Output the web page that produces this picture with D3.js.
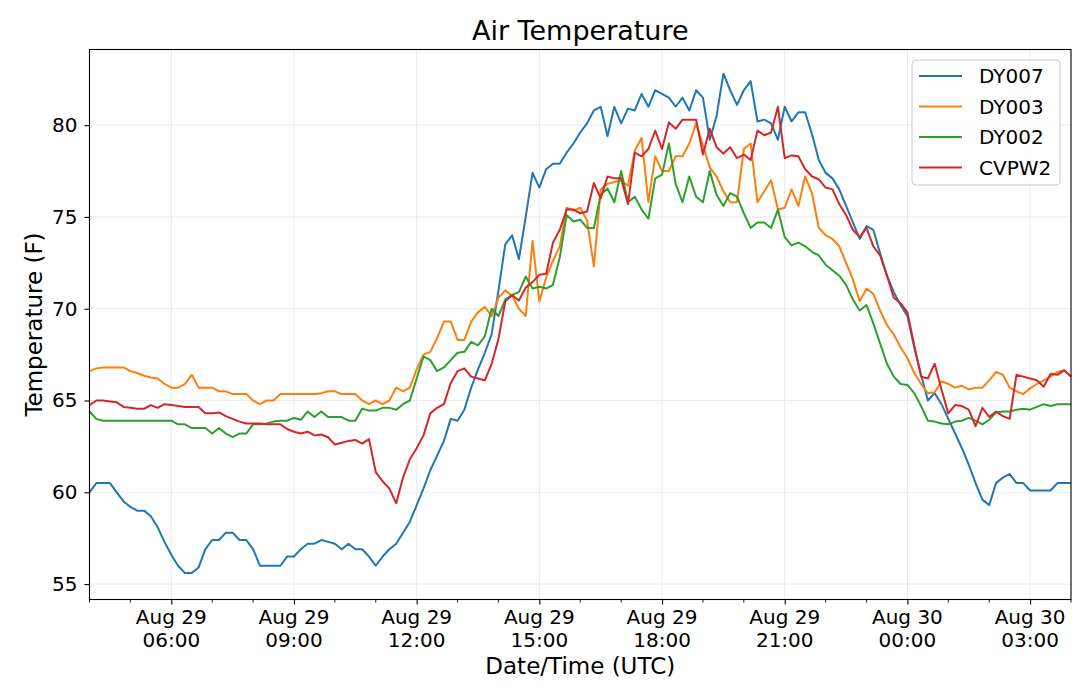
<!DOCTYPE html>
<html>
<head>
<meta charset="utf-8">
<script src="https://cdn.jsdelivr.net/npm/d3@7"></script>
<style>
  body { margin: 0; background: #fff; }
  svg { display: block; font-family: "DejaVu Sans", sans-serif; }
</style>
</head>
<body>
<div id="chart"></div>
<script>
// readings every 10 minutes, Aug 29 04:00 UTC -> Aug 30 04:00 UTC
const startTime = Date.UTC(2019, 7, 29, 4, 0);
const stepMinutes = 10;

const seriesNames = ["DY007", "DY003", "DY002", "CVPW2"];
const seriesColors = ["#1f77b4", "#ff7f0e", "#2ca02c", "#d62728"];

const dy007 = [
  60.0, 60.5, 60.5, 60.5, 60.0, 59.5, 59.2, 59.0, 59.0, 58.7,
  58.1, 57.3, 56.6, 56.0, 55.6, 55.6, 55.9, 56.9, 57.4, 57.4,
  57.8, 57.8, 57.4, 57.4, 56.9, 56.0, 56.0, 56.0, 56.0, 56.5,
  56.5, 56.9, 57.2, 57.2, 57.4, 57.3, 57.2, 56.9, 57.2, 56.9,
  56.9, 56.5, 56.0, 56.5, 56.9, 57.2, 57.8, 58.4, 59.3, 60.2,
  61.2, 62.0, 62.8, 64.0, 63.9, 64.5, 65.7, 66.7, 67.6, 68.6,
  71.0, 73.5, 74.0, 72.7, 75.0, 77.4, 76.6, 77.6, 77.9, 77.9,
  78.5, 79.0, 79.6, 80.1, 80.8, 81.0, 79.4, 81.0, 80.1, 80.9,
  80.8, 81.7, 81.0, 81.9, 81.7, 81.5, 81.0, 81.5, 80.8, 81.9,
  81.5, 79.2, 80.5, 82.8, 81.9, 81.1, 81.9, 82.4, 80.2, 80.3,
  80.1, 79.2, 81.0, 80.2, 80.7, 80.7, 79.5, 78.1, 77.4, 77.1,
  76.5, 75.6, 74.7, 73.8, 74.5, 74.3, 73.0, 71.8, 70.9, 70.2,
  69.6, 67.9, 66.4, 65.0, 65.4, 64.8, 64.0, 63.2, 62.4, 61.5,
  60.5, 59.6, 59.3, 60.5, 60.8, 61.0, 60.5, 60.5, 60.1, 60.1,
  60.1, 60.1, 60.5, 60.5, 60.5
];

const dy003 = [
  66.6, 66.75, 66.8, 66.8, 66.8, 66.8, 66.6, 66.5, 66.35, 66.25,
  66.2, 65.9, 65.7, 65.7, 65.9, 66.4, 65.7, 65.7, 65.7, 65.5,
  65.5, 65.35, 65.35, 65.35, 65.0, 64.8, 65.0, 65.0, 65.35, 65.35,
  65.35, 65.35, 65.35, 65.35, 65.4, 65.5, 65.5, 65.35, 65.35, 65.35,
  65.0, 64.8, 65.0, 64.8, 65.0, 65.7, 65.5, 65.7, 66.7, 67.5,
  67.65, 68.4, 69.3, 69.3, 68.3, 68.3, 69.3, 69.8, 70.1, 69.6,
  70.6, 71.0, 70.7, 70.0, 69.6, 73.7, 70.4, 71.7, 72.6, 73.4,
  75.5, 75.35, 75.5, 74.8, 72.3, 76.5, 76.8, 76.9, 77.0, 76.7,
  78.6, 79.3, 75.8, 78.3, 77.5, 77.5, 78.3, 78.3, 79.0, 80.1,
  78.9, 77.7, 77.2, 76.4, 75.8, 75.8, 78.7, 79.0, 75.8, 76.4,
  77.0, 75.4, 75.5, 76.5, 75.6, 77.2, 76.3, 74.4, 74.0, 73.8,
  73.4, 72.5, 71.6, 70.4, 71.1, 70.8, 69.9, 69.1, 68.6, 67.9,
  67.3, 66.5, 65.9, 65.4, 65.45, 66.05, 65.9, 65.7, 65.8, 65.6,
  65.7, 65.7, 66.1, 66.55, 66.4, 65.7, 65.5, 65.35, 65.66, 65.9,
  66.1, 66.3, 66.55, 66.65, 66.3
];

const dy002 = [
  64.4, 64.0, 63.9, 63.9, 63.9, 63.9, 63.9, 63.9, 63.9, 63.9,
  63.9, 63.9, 63.9, 63.7, 63.7, 63.5, 63.5, 63.5, 63.2, 63.5,
  63.2, 63.0, 63.2, 63.2, 63.7, 63.7, 63.75, 63.85, 63.9, 63.9,
  64.05, 63.95, 64.4, 64.1, 64.4, 64.1, 64.1, 64.1, 63.9, 63.9,
  64.55, 64.45, 64.45, 64.6, 64.6, 64.5, 64.8, 65.0, 66.2, 67.4,
  67.2, 66.6, 66.8, 67.2, 67.6, 67.65, 68.2, 68.0, 68.5, 70.0,
  69.6, 70.5, 70.75, 70.9, 71.75, 71.1, 71.2, 71.1, 71.3, 72.8,
  75.1, 74.75, 74.85, 74.4, 74.4, 76.2, 76.55, 75.8, 77.5, 75.8,
  76.1, 75.4, 74.9, 77.1, 77.3, 79.0, 76.8, 75.8, 77.2, 76.1,
  75.8, 77.5, 76.2, 75.6, 76.3, 76.1, 75.2, 74.4, 74.7, 74.7,
  74.4, 75.4, 73.9, 73.45, 73.6, 73.4, 73.1, 72.9, 72.4, 72.1,
  71.8, 71.3, 70.5, 69.9, 70.2, 69.2, 68.1, 67.0, 66.3, 65.9,
  65.85, 65.4, 64.7, 63.9, 63.85, 63.75, 63.7, 63.85, 63.9, 64.05,
  63.9, 63.7, 63.95, 64.35, 64.4, 64.4, 64.5, 64.55, 64.5, 64.65,
  64.8, 64.7, 64.8, 64.8, 64.8
];

const cvpw2 = [
  64.75, 65.0, 65.0, 64.95, 64.9, 64.65, 64.6, 64.55, 64.55, 64.75,
  64.6, 64.8, 64.75, 64.7, 64.65, 64.65, 64.65, 64.3, 64.3, 64.35,
  64.15, 64.0, 63.85, 63.75, 63.75, 63.75, 63.7, 63.7, 63.7, 63.45,
  63.3, 63.2, 63.3, 63.1, 63.15, 63.0, 62.6, 62.7, 62.8, 62.85,
  62.65, 62.9, 61.1, 60.6, 60.2, 59.4, 60.8, 61.8, 62.4, 63.1,
  64.3, 64.6, 64.8, 65.95, 66.6, 66.75, 66.3, 66.2, 66.1, 67.0,
  68.35, 70.4, 70.75, 70.45, 71.15, 71.45, 71.85, 71.9, 73.6, 74.3,
  75.4, 75.4, 75.2, 75.3, 76.85, 76.0, 77.2, 77.1, 77.1, 75.7,
  78.5, 78.3, 78.7, 79.7, 78.7, 80.15, 79.8, 80.3, 80.3, 80.3,
  78.4, 79.8, 78.8, 78.45, 78.8, 78.2, 78.4, 78.1, 79.7, 79.45,
  79.6, 81.0, 78.2, 78.35, 78.3, 77.6, 77.2, 77.05, 76.6, 76.5,
  75.7, 75.1, 74.3, 73.9, 74.4, 73.4, 72.9, 71.8, 70.6, 70.3,
  69.8, 68.0, 66.3, 66.2, 67.0, 65.6, 64.3, 64.75, 64.7, 64.5,
  63.6, 64.6, 64.1, 64.4, 64.15, 64.0, 66.4, 66.3, 66.2, 66.1,
  65.75, 66.45, 66.4, 66.65, 66.3
];

const yTicks = [55, 60, 65, 70, 75, 80];
const yLimits = [54.16, 84.12];

const allSeries = [dy007, dy003, dy002, cvpw2];
const times = d3.range(dy007.length).map((i) => new Date(startTime + i * stepMinutes * 60000));

const width = 1080;
const height = 693;
const margin = { top: 49.5, right: 9, bottom: 93.5, left: 89.5 };

const svg = d3
  .select("#chart")
  .append("svg")
  .attr("width", width)
  .attr("height", height);

const x = d3
  .scaleUtc()
  .domain([times[0], times[times.length - 1]])
  .range([margin.left, width - margin.right]);

const y = d3
  .scaleLinear()
  .domain(yLimits)
  .range([height - margin.bottom, margin.top]);

const majorTicks = d3.utcHour.every(3).range(times[0], times[times.length - 1]);
const minorTicks = d3.utcHour
  .every(1)
  .range(times[0], new Date(+times[times.length - 1] + 1))
  .filter((t) => t.getUTCHours() % 3 !== 0);

// grid
const grid = svg.append("g").attr("stroke", "#ebebeb").attr("stroke-width", 1);
grid
  .selectAll(".vgrid")
  .data(majorTicks)
  .enter()
  .append("line")
  .attr("x1", (d) => x(d))
  .attr("x2", (d) => x(d))
  .attr("y1", margin.top)
  .attr("y2", height - margin.bottom);
grid
  .selectAll(".hgrid")
  .data(yTicks)
  .enter()
  .append("line")
  .attr("x1", margin.left)
  .attr("x2", width - margin.right)
  .attr("y1", (d) => y(d))
  .attr("y2", (d) => y(d));

// series lines
const line = d3
  .line()
  .x((d, i) => x(times[i]))
  .y((d) => y(d));

svg
  .selectAll(".series")
  .data(allSeries)
  .enter()
  .append("path")
  .attr("class", "series")
  .attr("fill", "none")
  .attr("stroke", (d, i) => seriesColors[i])
  .attr("stroke-width", 2)
  .attr("stroke-linejoin", "round")
  .attr("d", line);

// x axis (two line labels)
const xAxis = svg
  .append("g")
  .attr("transform", `translate(0,${height - margin.bottom})`)
  .call(d3.axisBottom(x).tickValues(majorTicks).tickSize(5).tickFormat(""));
xAxis.select(".domain").remove();
xAxis.selectAll(".tick line").attr("stroke", "#000").attr("stroke-width", 1.1);

svg
  .append("g")
  .attr("transform", `translate(0,${height - margin.bottom})`)
  .selectAll("line")
  .data(minorTicks)
  .enter()
  .append("line")
  .attr("x1", (d) => x(d))
  .attr("x2", (d) => x(d))
  .attr("y1", 0)
  .attr("y2", 3)
  .attr("stroke", "#000")
  .attr("stroke-width", 0.9);

const dayFmt = d3.utcFormat("%b %d");
const hourFmt = d3.utcFormat("%H:%M");
const xLabels = svg
  .append("g")
  .selectAll("text")
  .data(majorTicks)
  .enter()
  .append("text")
  .attr("text-anchor", "middle")
  .attr("font-size", 20)
  .attr("fill", "#000");
xLabels.append("tspan").attr("x", (d) => x(d)).attr("y", 623.5).text(dayFmt);
xLabels.append("tspan").attr("x", (d) => x(d)).attr("y", 647).text(hourFmt);

// y axis
const yAxis = svg
  .append("g")
  .attr("transform", `translate(${margin.left},0)`)
  .call(d3.axisLeft(y).tickValues(yTicks).tickSize(5).tickPadding(7));
yAxis.select(".domain").remove();
yAxis.selectAll(".tick line").attr("stroke", "#000").attr("stroke-width", 1.1);
yAxis
  .selectAll(".tick text")
  .attr("font-size", 20)
  .attr("font-family", "DejaVu Sans")
  .attr("fill", "#000");

// frame
svg
  .append("rect")
  .attr("x", margin.left)
  .attr("y", margin.top)
  .attr("width", width - margin.right - margin.left)
  .attr("height", height - margin.bottom - margin.top)
  .attr("fill", "none")
  .attr("stroke", "#000")
  .attr("stroke-width", 1.1);

// titles
svg
  .append("text")
  .attr("x", (margin.left + width - margin.right) / 2)
  .attr("y", 40)
  .attr("text-anchor", "middle")
  .attr("font-size", 27)
  .text("Air Temperature");

svg
  .append("text")
  .attr("x", (margin.left + width - margin.right) / 2)
  .attr("y", 673.5)
  .attr("text-anchor", "middle")
  .attr("font-size", 23)
  .text("Date/Time (UTC)");

svg
  .append("text")
  .attr("transform", `translate(42,${(margin.top + height - margin.bottom) / 2}) rotate(-90)`)
  .attr("text-anchor", "middle")
  .attr("font-size", 23)
  .text("Temperature (F)");

// legend
const legend = svg.append("g").attr("transform", "translate(912,60)");
legend
  .append("rect")
  .attr("width", 148)
  .attr("height", 125)
  .attr("rx", 4)
  .attr("fill", "#fff")
  .attr("fill-opacity", 0.8)
  .attr("stroke", "#cccccc")
  .attr("stroke-width", 1);

const legendRows = legend
  .selectAll(".row")
  .data(seriesNames)
  .enter()
  .append("g")
  .attr("class", "row")
  .attr("transform", (d, i) => `translate(0,${16 + i * 30.5})`);
legendRows
  .append("line")
  .attr("x1", 7)
  .attr("x2", 50)
  .attr("stroke", (d, i) => seriesColors[i])
  .attr("stroke-width", 2);
legendRows
  .append("text")
  .attr("x", 67)
  .attr("dy", "0.36em")
  .attr("font-size", 20)
  .text((d) => d);
</script>
</body>
</html>
